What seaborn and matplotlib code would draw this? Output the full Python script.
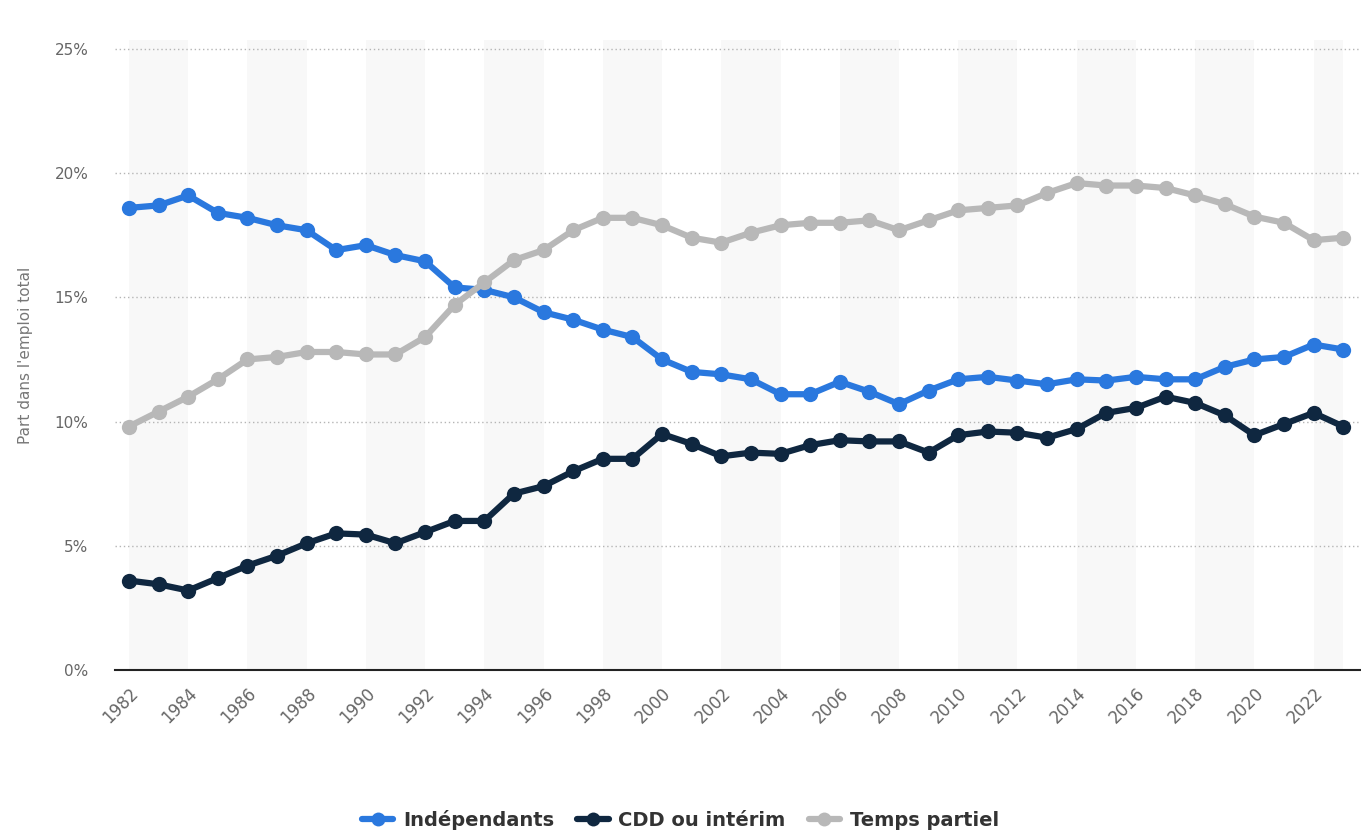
import pandas as pd
import numpy as np
import matplotlib
matplotlib.use("Agg")
import matplotlib.pyplot as plt
from matplotlib.lines import Line2D
import seaborn as sns

years = list(range(1982, 2024))

independants = [18.6, 18.7, 19.1, 18.4, 18.2, 17.9, 17.7, 16.9, 17.1, 16.7,
                16.45, 15.4, 15.3, 15.0, 14.4, 14.1, 13.7, 13.4, 12.5, 12.0,
                11.9, 11.7, 11.1, 11.1, 11.6, 11.2, 10.7, 11.25, 11.7, 11.8,
                11.65, 11.5, 11.7, 11.65, 11.8, 11.7, 11.7, 12.2, 12.5, 12.6,
                13.1, 12.9]

cdd_interim = [3.6, 3.45, 3.2, 3.7, 4.2, 4.6, 5.1, 5.5, 5.45, 5.1,
               5.55, 6.0, 6.0, 7.1, 7.4, 8.0, 8.5, 8.5, 9.5, 9.1,
               8.6, 8.75, 8.7, 9.05, 9.25, 9.2, 9.2, 8.75, 9.45, 9.6,
               9.55, 9.35, 9.7, 10.35, 10.55, 11.0, 10.75, 10.25, 9.45, 9.9,
               10.35, 9.8]

temps_partiel = [9.8, 10.4, 11.0, 11.7, 12.5, 12.6, 12.8, 12.8, 12.7, 12.7,
                 13.4, 14.7, 15.6, 16.5, 16.9, 17.7, 18.2, 18.2, 17.9, 17.4,
                 17.2, 17.6, 17.9, 18.0, 18.0, 18.1, 17.7, 18.1, 18.5, 18.6,
                 18.7, 19.2, 19.6, 19.5, 19.5, 19.4, 19.1, 18.75, 18.25, 18.0,
                 17.3, 17.4]

series_names = ["Indépendants", "CDD ou intérim", "Temps partiel"]
colors = {"Indépendants": "#2a78de", "CDD ou intérim": "#0f2740", "Temps partiel": "#b8b8b8"}

# Long-form table for seaborn
df = pd.DataFrame({
    "year": years * 3,
    "value": independants + cdd_interim + temps_partiel,
    "serie": [series_names[0]] * len(years) + [series_names[1]] * len(years) + [series_names[2]] * len(years),
})

sns.set_style("white")
plt.rcParams['font.family'] = ['DejaVu Sans']

fig = plt.figure(figsize=(13.61, 8.32), dpi=100)
ax = fig.add_axes([0.0845, 0.1947, 0.9155, 0.757])

# Alternating background bands every two years
for start in range(1982, 2024, 4):
    ax.axvspan(start, min(start + 2, 2023), color="#f8f8f8", zorder=0, lw=0)

for y in [5, 10, 15, 20, 25]:
    ax.axhline(y, color="#b5b5b5", lw=1, ls=(0, (1, 2)), zorder=1)

sns.lineplot(data=df, x="year", y="value", hue="serie", palette=colors,
             hue_order=series_names, marker="o", markersize=11, markeredgewidth=0,
             linewidth=4.5, ax=ax, legend=False, zorder=3)

ax.set_xlim(1981.53, 2023.6)
ax.set_ylim(0, 25.35)
ax.set_xticks(range(1982, 2024, 2))
ax.set_xticklabels([str(y) for y in range(1982, 2024, 2)], rotation=45,
                   ha="right", rotation_mode="anchor", fontsize=12, color="#666666")
ax.set_yticks([0, 5, 10, 15, 20, 25])
ax.set_yticklabels([f"{v}%" for v in [0, 5, 10, 15, 20, 25]], fontsize=11, color="#666666")
ax.tick_params(axis="both", length=0)
ax.tick_params(axis="y", pad=19)
ax.tick_params(axis="x", pad=10)
ax.set_xlabel("")
ax.set_ylabel("Part dans l'emploi total", fontsize=11, color="#777777", labelpad=16)

for s in ["top", "right", "left"]:
    ax.spines[s].set_visible(False)
ax.spines["bottom"].set_color("#222222")
ax.spines["bottom"].set_linewidth(1.5)

handles = [Line2D([0], [0], color=colors[n], lw=4.5, marker="o", markersize=10,
                  markeredgewidth=0) for n in series_names]
leg = fig.legend(handles, series_names, loc="center", bbox_to_anchor=(0.5, 0.015),
                 ncol=3, frameon=False, handlelength=1.6, columnspacing=1.2,
                 handletextpad=0.5, prop={"weight": "bold", "size": 14})
for t in leg.get_texts():
    t.set_color("#333333")

fig.savefig("out.png", dpi=100)
